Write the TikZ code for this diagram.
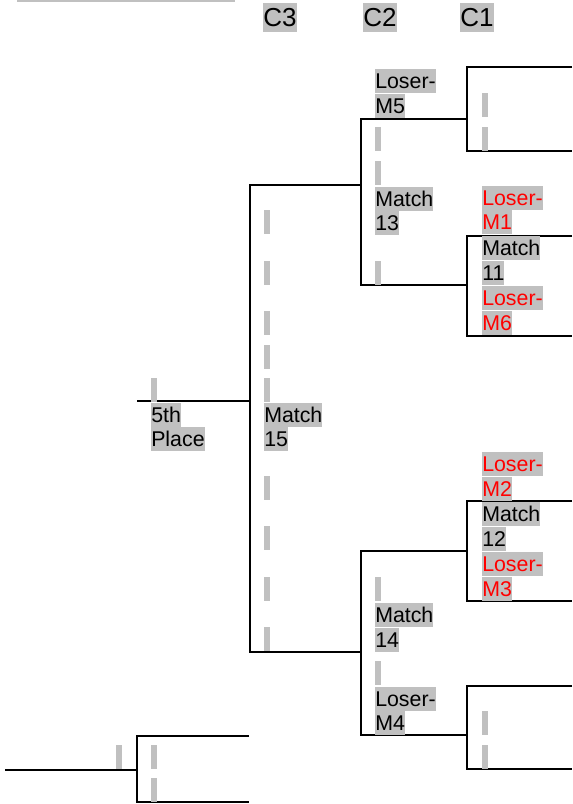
\documentclass[tikz,border=0pt]{standalone}
\usepackage{fontspec}
\setmainfont{Liberation Sans}
\definecolor{hl}{HTML}{C0C0C0}
\definecolor{lred}{HTML}{FF0000}
\begin{document}
\begin{tikzpicture}[x=0.75pt,y=-0.75pt,
  lbl/.style={fill=hl, inner sep=0pt, text height=14.48pt, text depth=3.39pt, anchor=north west, font=\fontsize{16pt}{18.4pt}\selectfont},
  lose/.style={lbl, text=lred},
  gapbar/.style={fill=hl, inner sep=0pt, minimum width=4.45pt, minimum height=18pt, anchor=north west},
  hdr/.style={fill=hl, inner sep=0pt, text height=17.65pt, text depth=4.13pt, anchor=north west, font=\fontsize{19.5pt}{22pt}\selectfont},
  ln/.style={line width=1.5pt}]
\useasboundingbox (0,0) rectangle (572,804);

% top rule
\fill[hl] (17,0) rectangle (235,2);

% headers
\node[hdr] (h3) at (263,3) {C3};
\node[hdr] (h2) at (363,3) {C2};
\node[hdr] (h1) at (460,3) {C1};

% ---------- coordinates of the bracket ----------
\coordinate (b1tr) at (572,67);  \coordinate (b1tl) at (467,67);
\coordinate (b1bl) at (467,151); \coordinate (b1br) at (572,151);
\coordinate (b1m) at (467,119);
\coordinate (b2tr) at (572,236); \coordinate (b2tl) at (467,236);
\coordinate (b2bl) at (467,336); \coordinate (b2br) at (572,336);
\coordinate (b2m) at (467,285);
\coordinate (v1t) at (361,119);  \coordinate (v1b) at (361,285);
\coordinate (v1m) at (361,185);
\coordinate (b3tr) at (572,501); \coordinate (b3tl) at (467,501);
\coordinate (b3bl) at (467,601); \coordinate (b3br) at (572,601);
\coordinate (b3m) at (467,551);
\coordinate (b4tr) at (572,686); \coordinate (b4tl) at (467,686);
\coordinate (b4bl) at (467,769); \coordinate (b4br) at (572,769);
\coordinate (b4m) at (467,735);
\coordinate (v2t) at (361,551);  \coordinate (v2b) at (361,735);
\coordinate (v2m) at (361,652);
\coordinate (v3t) at (250,185);  \coordinate (v3b) at (250,652);
\coordinate (v3m) at (250,401);
\coordinate (fifth) at (137,401);
\coordinate (b5tr) at (249,736); \coordinate (b5tl) at (137,736);
\coordinate (b5bl) at (137,802); \coordinate (b5br) at (249,802);
\coordinate (b5m) at (137,770);  \coordinate (b5e) at (5,770);

% ---------- lines ----------
\draw[ln] (b1tr) -- (b1tl) -- (b1bl) -- (b1br);
\draw[ln] (b2tr) -- (b2tl) -- (b2bl) -- (b2br);
\draw[ln] (b1m) -- (v1t) -- (v1b) -- (b2m);
\draw[ln] (b3tr) -- (b3tl) -- (b3bl) -- (b3br);
\draw[ln] (b4tr) -- (b4tl) -- (b4bl) -- (b4br);
\draw[ln] (b3m) -- (v2t) -- (v2b) -- (b4m);
\draw[ln] (v1m) -- (v3t) -- (v3b) -- (v2m);
\draw[ln] (fifth) -- (v3m);
\draw[ln] (b5tr) -- (b5tl) -- (b5bl) -- (b5br);
\draw[ln] (b5e) -- (b5m);

% ---------- C2 column, top ----------
\node[lbl] (l5a) at (375,69) {Loser-};
\node[lbl] (l5b) at (375,93.5) {M5};
\node[gapbar] (g1) at (375,127) {};
\node[gapbar] (g2) at (375,161) {};
\node[lbl] (m13a) at (375,187) {Match};
\node[lbl] (m13b) at (375,210.5) {13};
\node[gapbar] (g3) at (375,261) {};

% ---------- C1 column, top ----------
\node[gapbar] (g4) at (482,93) {};
\node[gapbar] (g5) at (482,127) {};
\node[lose] (l1a) at (482,186) {Loser-};
\node[lose] (l1b) at (482,210) {M1};
\node[lbl] (m11a) at (482,236) {Match};
\node[lbl] (m11b) at (482,260.5) {11};
\node[lose] (l6a) at (482,286) {Loser-};
\node[lose] (l6b) at (482,311) {M6};

% ---------- C3 column ----------
\node[gapbar] (g6) at (264,210) {};
\node[gapbar] (g7) at (264,261) {};
\node[gapbar] (g8) at (264,311) {};
\node[gapbar] (g9) at (264,344.5) {};
\node[gapbar] (g10) at (264,377.5) {};
\node[lbl] (m15a) at (264,402.5) {Match};
\node[lbl] (m15b) at (264,427) {15};
\node[gapbar] (g11) at (264,476) {};
\node[gapbar] (g12) at (264,526) {};
\node[gapbar] (g13) at (264,577) {};
\node[gapbar] (g14) at (264,627) {};

% ---------- 5th place ----------
\node[gapbar] (g15) at (151,377.5) {};
\node[lbl] (p5a) at (151,402.5) {5th};
\node[lbl] (p5b) at (151,427) {Place};

% ---------- C1 column, bottom ----------
\node[lose] (l2a) at (482,451.5) {Loser-};
\node[lose] (l2b) at (482,476.5) {M2};
\node[lbl] (m12a) at (482,502) {Match};
\node[lbl] (m12b) at (482,527) {12};
\node[lose] (l3a) at (482,552) {Loser-};
\node[lose] (l3b) at (482,577) {M3};

% ---------- C2 column, bottom ----------
\node[gapbar] (g16) at (375,577) {};
\node[lbl] (m14a) at (375,603) {Match};
\node[lbl] (m14b) at (375,628) {14};
\node[gapbar] (g17) at (375,661) {};
\node[lbl] (l4a) at (375,686.5) {Loser-};
\node[lbl] (l4b) at (375,711) {M4};
\node[gapbar] (g18) at (482,711) {};
\node[gapbar] (g19) at (482,744.5) {};

% ---------- bottom left ----------
\node[gapbar] (g20) at (116,744.5) {};
\node[gapbar] (g21) at (151,744.5) {};
\node[gapbar] (g22) at (151,778) {};
\end{tikzpicture}
\end{document}
